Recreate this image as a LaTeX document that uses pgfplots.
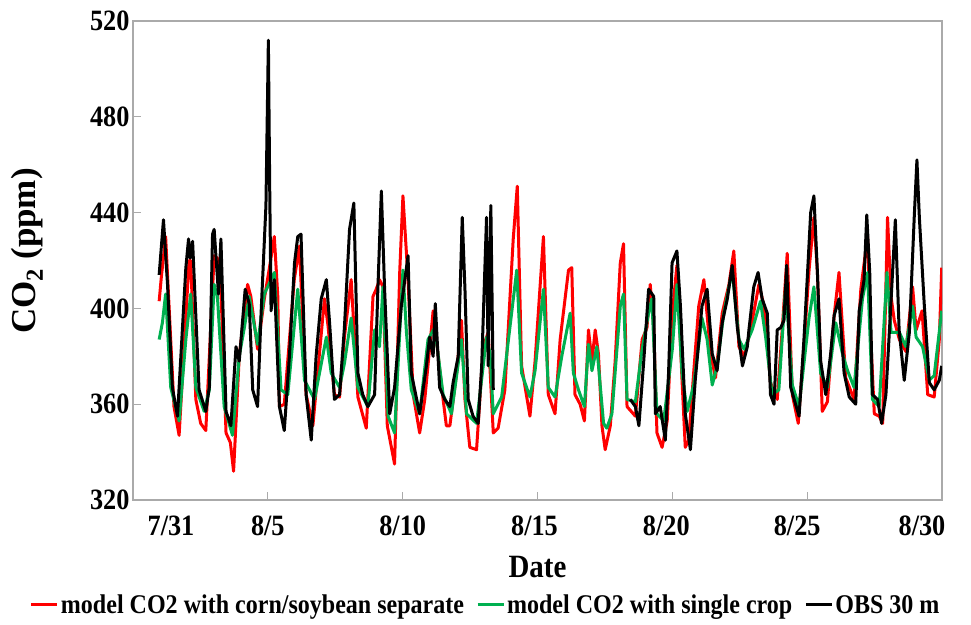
\documentclass[border=0pt]{standalone}
\usepackage{pgfplots}
\pgfplotsset{compat=1.18}
\usepackage{fontspec}
\setmainfont{Liberation Serif}
\newfontfamily\condensed{Liberation Serif}[FakeStretch=0.89]
\definecolor{cred}{RGB}{255,0,0}
\definecolor{cgreen}{RGB}{0,176,80}
\definecolor{frame}{RGB}{170,170,170}
\begin{document}
\begin{tikzpicture}
\begin{axis}[
  scale only axis, width=809pt, height=479pt,
  xmin=0, xmax=30, ymin=320, ymax=520,
  xtick={0,5,10,15,20,25,30},
  xticklabels={\hspace*{76pt}7/31,8/5,8/10,8/15\hspace*{6pt},8/20\hspace*{12pt},8/25\hspace*{20pt},8/30\hspace*{40pt}},
  ytick={320,360,400,440,480,520},
  axis line style={draw=frame, line width=1.2pt},
  tick style={draw=frame, line width=1pt},
  major tick length=8pt,
  tick align=inside, tick pos=left,
  /pgf/number format/assume math mode=true,
  ticklabel style={font=\condensed\bfseries\fontsize{29.5}{34}\selectfont},
  xticklabel style={yshift=-12pt},
  every axis y label/.style={at={(axis description cs:-0.131,0.52)}, rotate=90, anchor=center, font=\bfseries\fontsize{35}{40}\selectfont},
  every axis x label/.style={at={(axis description cs:0.5,-0.140)}, anchor=center, font=\condensed\bfseries\fontsize{32.5}{38}\selectfont},
  xlabel={Date}, ylabel={CO\textsubscript{2} (ppm)},
  legend columns=3,
  legend style={at={(axis description cs:0.436,-0.219)}, anchor=center, draw=none, fill=none,
    font=\condensed\bfseries\fontsize{27}{31}\selectfont,
    /tikz/every even column/.append style={column sep=10pt}},
  legend image code/.code={\draw[#1] (0pt,0pt) -- (26pt,0pt);},
  every axis plot/.append style={line width=3pt, line join=round},
]
\addplot[cred] coordinates {
(0.97,403)(1.05,413)(1.21,430)(1.52,359)(1.71,347)(2.08,420)(2.14,420)(2.33,362)(2.51,352)(2.70,349)
(3.01,422)(3.13,421)(3.26,408)(3.45,348)(3.61,344)(3.73,332)(3.94,380)(4.25,410)(4.37,405)(4.62,383)
(4.87,404)(5.06,417)(5.24,430)(5.37,405)(5.43,359)(5.61,360)(5.98,412)(6.17,426)(6.42,364)(6.67,351)
(7.10,404)(7.23,393)(7.47,364)(7.66,363)(7.84,388)(8.09,412)(8.34,363)(8.65,350)(8.90,405)(9.02,408)
(9.14,412)(9.27,409)(9.43,351)(9.70,335)(9.89,415)(10.01,447)(10.20,412)(10.39,364)(10.63,348)(10.82,362)
(11.13,399)(11.50,362)(11.62,351)(11.75,351)(12.00,373)(12.18,395)(12.31,362)(12.49,342)(12.74,341)(12.99,384)
(13.17,390)(13.36,348)(13.54,350)(13.79,366)(14.10,429)(14.25,451)(14.41,376)(14.72,355)(14.91,378)(15.22,430)
(15.40,364)(15.65,356)(15.84,387)(16.15,416)(16.27,417)(16.39,364)(16.58,360)(16.74,353)(16.89,391)(17.02,378)
(17.14,391)(17.26,381)(17.39,351)(17.51,341)(17.70,351)(17.88,378)(18.07,419)(18.19,427)(18.32,359)(18.63,355)
(18.88,387)(19.06,392)(19.18,410)(19.31,392)(19.43,348)(19.62,342)(19.81,353)(20.00,398)(20.17,418)(20.36,370)
(20.48,342)(20.61,345)(20.79,373)(20.98,401)(21.17,412)(21.42,381)(21.60,371)(21.85,398)(22.10,410)(22.28,424)
(22.47,384)(22.66,380)(22.90,391)(23.21,410)(23.40,401)(23.64,369)(23.89,362)(24.08,392)(24.26,423)(24.45,364)
(24.67,352)(24.88,384)(25.07,416)(25.25,438)(25.38,415)(25.56,357)(25.75,361)(26.00,397)(26.18,415)(26.43,371)
(26.74,362)(26.99,408)(27.24,430)(27.36,387)(27.49,356)(27.67,355)(27.80,352)(27.98,438)(28.11,405)(28.23,395)
(28.42,387)(28.66,382)(28.91,409)(29.04,391)(29.26,399)(29.47,364)(29.71,363)(29.90,387)(29.99,417)
};
\addlegendentry{model CO2 with corn/soybean separate}
\addplot[cgreen] coordinates {
(0.97,387)(1.09,394)(1.21,406)(1.40,367)(1.71,353)(1.96,387)(2.14,406)(2.33,367)(2.64,357)(2.83,366)
(3.01,410)(3.13,405)(3.38,359)(3.69,347)(3.94,380)(4.13,392)(4.31,405)(4.62,385)(4.87,406)(5.24,415)
(5.49,366)(5.74,364)(6.11,408)(6.36,370)(6.73,362)(7.17,388)(7.35,373)(7.66,367)(7.84,377)(8.09,396)
(8.34,367)(8.71,359)(8.96,391)(9.14,384)(9.27,409)(9.46,355)(9.70,348)(10.01,416)(10.14,390)(10.32,366)
(10.63,356)(10.94,387)(11.19,392)(11.50,364)(11.81,356)(12.18,387)(12.37,356)(12.74,352)(13.11,388)(13.24,381)
(13.36,356)(13.67,363)(14.04,398)(14.23,416)(14.41,373)(14.72,363)(14.91,374)(15.22,408)(15.40,367)(15.65,363)
(15.90,380)(16.21,398)(16.33,373)(16.52,366)(16.74,359)(16.89,385)(17.02,374)(17.20,384)(17.45,352)(17.57,350)
(17.76,356)(18.07,401)(18.19,406)(18.32,362)(18.63,361)(18.88,383)(19.12,398)(19.24,404)(19.43,356)(19.68,353)
(20.00,383)(20.17,410)(20.36,373)(20.55,357)(20.79,368)(21.10,396)(21.29,387)(21.48,368)(21.66,376)(21.91,398)
(22.22,416)(22.47,387)(22.66,383)(22.96,391)(23.27,403)(23.46,388)(23.70,364)(23.95,366)(24.20,409)(24.45,368)
(24.70,359)(25.07,396)(25.25,409)(25.50,373)(25.75,367)(26.06,394)(26.31,381)(26.50,374)(26.74,367)(27.05,404)
(27.24,415)(27.42,362)(27.67,359)(27.96,415)(28.11,390)(28.42,390)(28.66,384)(28.91,401)(29.04,388)(29.28,384)
(29.53,370)(29.71,372)(29.99,399)
};
\addlegendentry{model CO2 with single crop}
\addplot[black] coordinates {
(0.97,414)(1.13,437)(1.28,410)(1.46,367)(1.65,355)(1.96,417)(2.06,429)(2.12,421)(2.21,428)(2.45,366)
(2.70,357)(2.83,367)(2.95,431)(3.01,433)(3.17,406)(3.26,429)(3.45,357)(3.63,351)(3.82,384)(3.94,378)
(4.16,408)(4.31,402)(4.44,366)(4.62,359)(4.75,398)(4.93,443)(5.02,512)(5.07,450)(5.12,399)(5.24,412)
(5.43,359)(5.61,349)(5.80,380)(5.99,419)(6.11,430)(6.23,431)(6.42,364)(6.61,345)(6.79,380)(6.98,404)
(7.17,412)(7.29,394)(7.47,362)(7.66,364)(7.84,392)(8.03,433)(8.19,444)(8.34,373)(8.52,364)(8.71,359)
(8.96,364)(9.08,408)(9.21,449)(9.33,408)(9.52,356)(9.70,367)(9.95,401)(10.07,411)(10.20,422)(10.32,373)
(10.63,356)(10.88,376)(11.00,388)(11.13,380)(11.21,402)(11.37,367)(11.56,362)(11.75,359)(11.87,369)(12.06,380)
(12.21,438)(12.31,408)(12.43,362)(12.61,355)(12.80,352)(12.93,376)(13.11,438)(13.17,376)(13.27,443)(13.36,366)
};
\addlegendentry{OBS 30 m}
\addplot[black, forget plot] coordinates {
(18.44,362)(18.63,359)(18.76,351)(18.94,378)(19.12,408)(19.31,405)(19.37,356)(19.55,359)(19.74,345)(19.86,373)
(19.99,419)(20.17,424)(20.30,401)(20.48,356)(20.67,341)(20.85,370)(21.10,401)(21.29,408)(21.48,381)(21.66,374)
(21.85,394)(22.04,404)(22.22,418)(22.41,392)(22.60,376)(22.78,384)(22.84,391)(23.02,409)(23.18,415)(23.33,404)
(23.52,398)(23.64,364)(23.77,360)(23.89,391)(24.02,392)(24.14,395)(24.24,418)(24.39,367)(24.57,360)(24.70,355)
(24.88,387)(25.01,414)(25.13,440)(25.25,447)(25.38,415)(25.50,378)(25.69,364)(25.87,381)(26.00,397)(26.18,404)
(26.37,373)(26.56,363)(26.80,360)(26.93,399)(27.11,412)(27.21,439)(27.32,415)(27.42,364)(27.61,362)(27.76,352)
(27.92,364)(28.10,401)(28.27,437)(28.41,391)(28.60,370)(28.79,390)(28.97,438)(29.07,462)(29.16,438)(29.34,402)
(29.53,369)(29.71,366)(29.90,370)(29.99,376)
};
\end{axis}
\pgfresetboundingbox
\path ([xshift=-133pt,yshift=-124pt]current axis.south west) rectangle ([xshift=29pt,yshift=21pt]current axis.north east);
\end{tikzpicture}
\end{document}
